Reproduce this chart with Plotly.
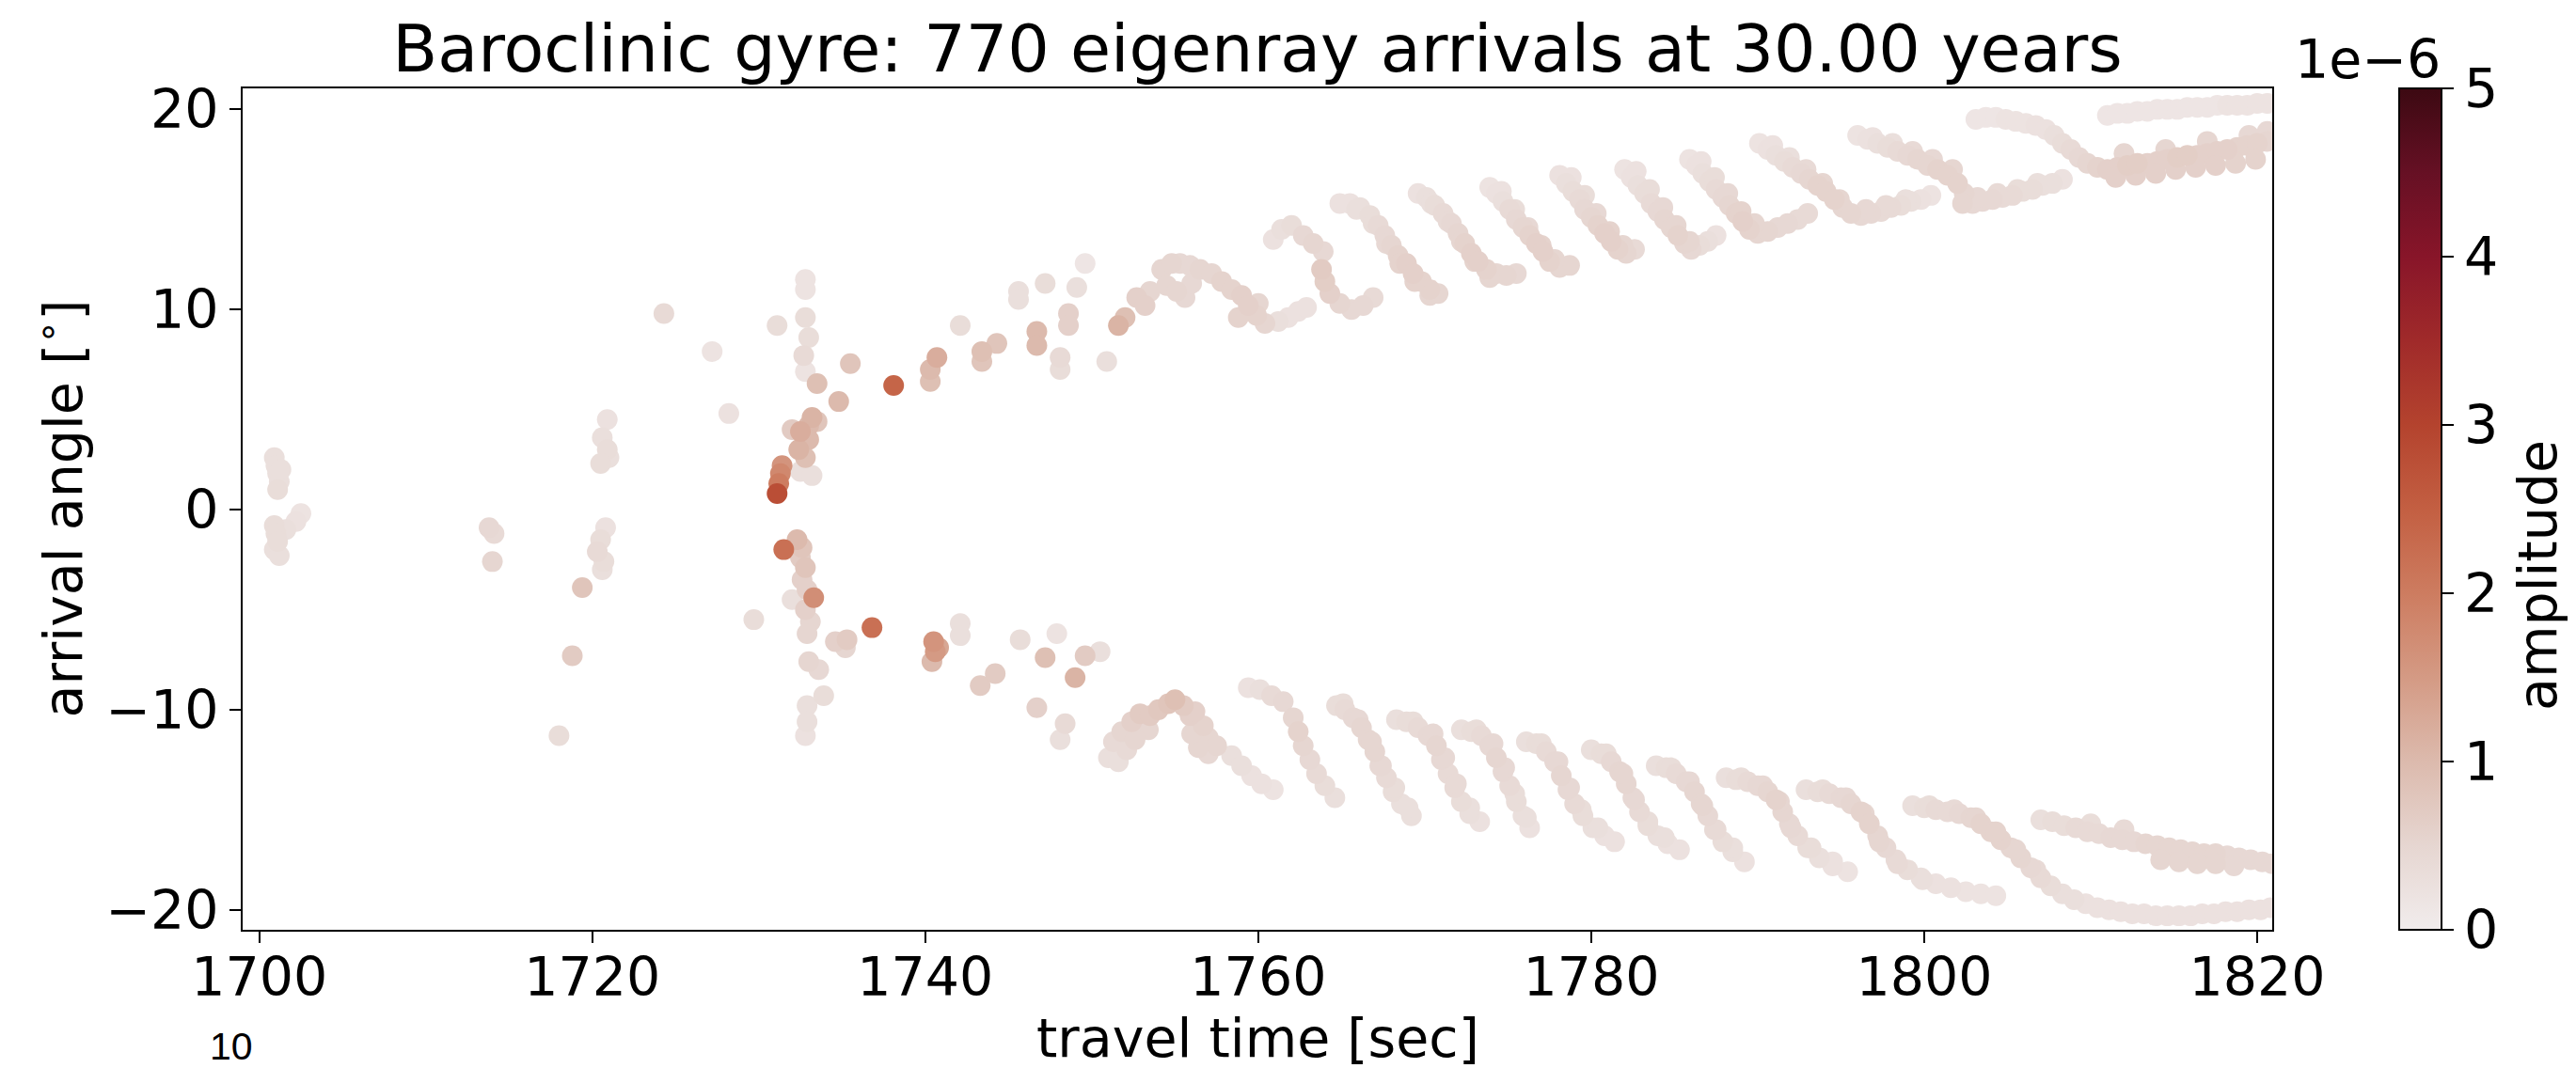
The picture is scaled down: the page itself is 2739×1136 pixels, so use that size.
import plotly.graph_objects as go

# ---------------------------------------------------------------
# Eigenray arrivals: travel time [s], arrival angle [deg], amplitude [1e-6]
# ---------------------------------------------------------------

# early, weak precursors (t < 1730 s)
early_t = [
    1700.9, 1701.0, 1701.1, 1701.2, 1701.1, 1701.3,
    1700.9, 1701.0, 1701.1, 1700.9, 1701.2, 1701.6, 1702.2, 1702.5,
    1713.8, 1714.1, 1714.0,
    1720.9, 1720.6, 1720.9, 1720.5, 1721.0,
    1720.8, 1720.5, 1720.3, 1720.7, 1720.6,
    1719.4, 1718.8, 1718.0,
    1724.3, 1727.2, 1728.2, 1729.7,
]
early_angle = [
    2.6, 2.2, 1.8, 1.4, 1.0, 2.0,
    -0.8, -1.2, -1.6, -2.0, -2.3, -1.0, -0.6, -0.2,
    -0.9, -1.2, -2.6,
    4.5, 3.6, 3.0, 2.3, 2.6,
    -0.9, -1.5, -2.1, -2.6, -3.0,
    -3.9, -7.3, -11.3,
    9.8, 7.9, 4.8, -5.5,
]
early_amp = [
    0.3, 0.3, 0.3, 0.3, 0.35, 0.3,
    0.35, 0.35, 0.35, 0.3, 0.3, 0.3, 0.25, 0.2,
    0.45, 0.4, 0.5,
    0.25, 0.3, 0.35, 0.35, 0.3,
    0.25, 0.35, 0.4, 0.35, 0.3,
    0.8, 0.7, 0.35,
    0.4, 0.2, 0.25, 0.35,
]

# strong arrivals near the fold (1731-1738 s)
fold_t = [
    1732.8, 1732.8, 1731.1, 1732.8, 1733.0, 1732.7, 1732.8, 1733.5, 1735.5, 1734.8, 1738.1,
    1733.2, 1733.0, 1732.5, 1733.0, 1732.4, 1732.8, 1733.5, 1732.0,
    1731.4, 1731.3, 1731.2, 1731.1, 1732.5, 1733.2,
    1731.5, 1732.3, 1732.6, 1732.5, 1732.8, 1732.6, 1732.9, 1733.3, 1732.0, 1732.8, 1733.1, 1732.9,
    1736.8, 1735.3, 1734.6, 1735.2,
    1733.0, 1733.6, 1733.9, 1732.9, 1732.9, 1732.8,
]
fold_angle = [
    11.5, 11.0, 9.2, 9.6, 8.6, 7.7, 6.9, 6.3, 7.3, 5.4, 6.2,
    4.6, 4.2, 3.9, 3.5, 3.0, 2.6, 4.4, 4.0,
    2.2, 1.8, 1.3, 0.8, 1.9, 1.7,
    -2.0, -1.5, -1.9, -2.4, -2.9, -3.5, -4.0, -4.4, -4.5, -5.0, -5.6, -6.2,
    -5.9, -6.5, -6.6, -6.9,
    -7.6, -8.0, -9.3, -9.8, -10.6, -11.3,
]
fold_amp = [
    0.2, 0.2, 0.35, 0.35, 0.35, 0.4, 0.2, 0.9, 0.8, 1.0, 2.4,
    1.1, 1.0, 1.2, 1.0, 1.1, 0.9, 0.8, 0.7,
    1.6, 1.8, 2.0, 2.8, 0.3, 0.3,
    2.2, 1.0, 0.8, 0.7, 0.8, 0.6, 0.6, 1.7, 0.3, 0.6, 0.5, 0.5,
    2.2, 0.7, 0.6, 0.5,
    0.5, 0.45, 0.35, 0.3, 0.3, 0.25,
]

# upward-launched branch (positive angles)
upper_t = [
    1740.7, 1740.3, 1740.3, 1742.1, 1743.4, 1743.4, 1744.3, 1745.6, 1745.6, 1746.7,
    1746.7, 1747.2, 1748.1, 1748.1, 1748.6, 1748.6, 1749.1, 1749.6, 1750.9,
    1751.6, 1752.0, 1752.7, 1753.2, 1753.5,
    1754.2, 1754.8, 1755.3, 1755.9, 1756.5, 1757.2, 1757.8, 1754.5, 1755.1, 1755.6, 1756.0,
    1758.4, 1759.0, 1759.4, 1759.9, 1760.4, 1758.8, 1760.0,
    1761.2, 1761.8, 1762.4, 1762.9,
    1760.9, 1761.4, 1762.0, 1762.7, 1763.3, 1763.9,
    1763.8, 1764.0, 1764.3, 1764.9, 1765.6, 1766.3, 1766.9,
    1764.9, 1765.5, 1766.1, 1766.7, 1767.2, 1767.6, 1768.0, 1768.4, 1768.9, 1769.3, 1769.8, 1770.3, 1770.8,
    1769.6, 1770.1, 1770.6, 1771.1, 1771.6, 1772.0, 1772.4, 1772.8, 1773.2, 1773.7, 1774.3, 1774.9, 1775.5,
    1773.9, 1774.3, 1774.7, 1775.1, 1775.5, 1775.9, 1776.3, 1776.7, 1777.1, 1777.5, 1778.1, 1778.7,
    1778.1, 1778.5, 1778.9, 1779.3, 1779.6, 1780.0, 1780.4, 1780.8, 1781.2, 1781.6, 1782.1, 1782.6,
    1782.0, 1782.4, 1782.8, 1783.2, 1783.6, 1784.0, 1784.4, 1784.8, 1785.2, 1785.6, 1786.0, 1786.5, 1787.0, 1787.5,
    1785.9, 1786.3, 1786.7, 1787.1, 1787.5, 1787.9, 1788.3, 1788.7, 1789.1, 1789.5, 1790.0, 1790.6, 1791.2, 1791.8, 1792.4, 1793.0,
    1790.1, 1790.6, 1791.1, 1791.6, 1792.1, 1792.6, 1793.1, 1793.6, 1794.1, 1794.6,
    1795.1, 1795.6, 1796.2, 1796.8, 1797.4, 1798.0, 1798.6, 1799.2, 1799.8, 1800.4,
    1796.0, 1796.6, 1797.2, 1797.8, 1798.4, 1799.0, 1799.6, 1800.2, 1800.8, 1801.4, 1802.0, 1802.4,
    1802.3, 1802.9, 1803.5, 1804.1, 1804.7, 1805.3, 1805.9, 1806.5, 1807.1, 1807.7, 1808.3,
    1803.1, 1803.7, 1804.3, 1804.9, 1805.5, 1806.1, 1806.7, 1807.3, 1807.8, 1808.3, 1808.8, 1809.3, 1809.8, 1810.4,
    1811.0, 1811.6, 1812.2, 1812.8, 1813.4, 1814.0, 1814.6, 1815.2, 1815.8, 1816.4, 1817.0, 1817.6, 1818.2, 1818.8, 1819.4, 1820.0, 1820.6,
    1811.5, 1812.7, 1813.9, 1815.1, 1816.3, 1817.5, 1818.7, 1819.9, 1812.0, 1814.5, 1817.0, 1819.5, 1820.6,
    1811.0, 1811.6, 1812.2, 1812.8, 1813.4, 1814.0, 1814.6, 1815.2, 1815.8, 1816.4, 1817.0, 1817.6, 1818.2, 1818.8, 1819.4, 1820.0, 1820.6,
]
upper_angle = [
    7.6, 7.0, 6.4, 9.2, 7.9, 7.4, 8.3, 10.9, 10.5, 8.9,
    8.2, 11.3, 7.6, 7.0, 9.8, 9.2, 11.1, 12.3, 7.4,
    9.2, 9.6, 10.6, 10.2, 10.9,
    12.0, 12.3, 12.3, 12.2, 12.0, 11.8, 11.4, 11.2, 10.9, 10.6, 11.3,
    11.0, 10.7, 10.2, 9.7, 9.3, 9.6, 10.3,
    9.4, 9.6, 9.9, 10.1,
    13.5, 14.0, 14.2, 13.7, 13.3, 12.9,
    12.0, 11.4, 10.8, 10.3, 10.0, 10.2, 10.6,
    15.3, 15.3, 15.1, 14.7, 14.2, 13.7, 13.2, 12.7, 12.3, 11.8, 11.4, 11.0, 10.8,
    15.8, 15.6, 15.2, 14.8, 14.3, 13.8, 13.3, 12.8, 12.4, 12.0, 11.8, 11.7, 11.8,
    16.1, 15.8, 15.4, 15.0, 14.5, 14.1, 13.7, 13.3, 12.9, 12.4, 12.1, 12.2,
    16.7, 16.3, 15.9, 15.5, 15.0, 14.6, 14.2, 13.8, 13.4, 13.0, 12.8, 13.0,
    17.0, 16.6, 16.2, 15.8, 15.3, 14.9, 14.5, 14.1, 13.7, 13.3, 13.0, 13.2, 13.4, 13.7,
    17.5, 17.2, 16.8, 16.4, 16.0, 15.6, 15.2, 14.8, 14.4, 14.0, 13.8, 13.9, 14.1, 14.3, 14.5, 14.8,
    18.3, 18.0, 17.7, 17.4, 17.1, 16.8, 16.5, 16.2, 15.9, 15.5,
    15.1, 14.8, 14.7, 14.8, 14.9, 15.1, 15.2, 15.4, 15.5, 15.7,
    18.7, 18.5, 18.3, 18.1, 17.9, 17.7, 17.5, 17.2, 17.0, 16.7, 16.3, 15.8,
    15.3, 15.3, 15.4, 15.5, 15.6, 15.7, 15.9, 16.0, 16.2, 16.3, 16.5,
    19.5, 19.6, 19.6, 19.5, 19.4, 19.3, 19.2, 19.0, 18.7, 18.3, 18.0, 17.6, 17.3, 17.1,
    17.0, 17.1, 17.2, 17.3, 17.3, 17.4, 17.5, 17.6, 17.7, 17.7, 17.8, 17.9, 18.0, 18.1, 18.2, 18.3, 18.4,
    16.6, 16.7, 16.8, 17.0, 17.1, 17.2, 17.3, 17.5, 17.8, 18.0, 18.4, 18.7, 18.9,
    19.7, 19.8, 19.8, 19.9, 19.9, 20.0, 20.0, 20.0, 20.1, 20.1, 20.1, 20.2, 20.2, 20.2, 20.2, 20.3, 20.3,
]
upper_amp = [
    1.2, 1.0, 0.9, 0.35, 0.9, 0.8, 0.8, 0.3, 0.3, 1.0,
    1.0, 0.35, 0.4, 0.35, 0.6, 0.6, 0.3, 0.15, 0.3,
    1.1, 0.9, 0.6, 0.6, 0.5,
    0.5, 0.5, 0.45, 0.45, 0.5, 0.5, 0.55, 0.5, 0.5, 0.45, 0.45,
    0.55, 0.6, 0.6, 0.55, 0.5, 0.55, 0.5,
    0.3, 0.25, 0.25, 0.25,
    0.25, 0.3, 0.35, 0.45, 0.5, 0.45,
    0.7, 0.65, 0.6, 0.5, 0.45, 0.45, 0.4,
    0.25, 0.25, 0.3, 0.35, 0.4, 0.45, 0.5, 0.55, 0.6, 0.6, 0.55, 0.55, 0.5,
    0.25, 0.3, 0.35, 0.4, 0.45, 0.5, 0.55, 0.6, 0.6, 0.55, 0.5, 0.5, 0.45,
    0.2, 0.25, 0.3, 0.4, 0.45, 0.5, 0.55, 0.6, 0.6, 0.55, 0.5, 0.5,
    0.25, 0.3, 0.35, 0.4, 0.45, 0.5, 0.55, 0.6, 0.6, 0.55, 0.5, 0.4,
    0.2, 0.25, 0.3, 0.35, 0.4, 0.45, 0.5, 0.5, 0.55, 0.5, 0.45, 0.35, 0.3, 0.25,
    0.2, 0.25, 0.3, 0.35, 0.4, 0.45, 0.5, 0.55, 0.6, 0.55, 0.5, 0.5, 0.45, 0.45, 0.4, 0.4,
    0.2, 0.25, 0.3, 0.35, 0.4, 0.45, 0.5, 0.55, 0.55, 0.55,
    0.5, 0.5, 0.45, 0.45, 0.4, 0.4, 0.35, 0.3, 0.25, 0.2,
    0.2, 0.25, 0.3, 0.35, 0.4, 0.45, 0.5, 0.5, 0.55, 0.55, 0.55, 0.5,
    0.5, 0.45, 0.45, 0.45, 0.4, 0.4, 0.35, 0.35, 0.3, 0.3, 0.25,
    0.15, 0.15, 0.15, 0.2, 0.2, 0.2, 0.25, 0.25, 0.3, 0.35, 0.4, 0.45, 0.5, 0.55,
    0.6, 0.6, 0.65, 0.65, 0.6, 0.6, 0.6, 0.65, 0.65, 0.6, 0.6, 0.6, 0.6, 0.55, 0.55, 0.55, 0.5,
    0.6, 0.6, 0.6, 0.6, 0.6, 0.6, 0.55, 0.55, 0.5, 0.5, 0.5, 0.45, 0.45,
    0.15, 0.15, 0.15, 0.15, 0.15, 0.15, 0.15, 0.15, 0.15, 0.15, 0.15, 0.15, 0.2, 0.2, 0.2, 0.2, 0.2,
]

# neighbouring rays that thicken the upper striations
upper_pair_t = [
    1765.9, 1766.9, 1767.7, 1768.5, 1769.4, 1770.3,
    1770.4, 1771.4, 1772.2, 1773.0, 1773.9,
    1774.6, 1775.4, 1776.2, 1777.0, 1777.8,
    1778.8, 1779.6, 1780.3, 1781.1, 1781.9,
    1782.7, 1783.5, 1784.3, 1785.1, 1785.9,
    1786.6, 1787.4, 1788.2, 1789.0, 1789.8,
    1790.9, 1791.9, 1792.9, 1793.9, 1794.9, 1796.5, 1797.7, 1798.9,
    1796.9, 1798.1, 1799.3, 1800.5, 1801.7, 1803.2, 1804.4, 1805.6, 1806.8,
]
upper_pair_angle = [
    15.0, 14.3, 13.3, 12.3, 11.4, 10.7,
    15.3, 14.4, 13.4, 12.4, 11.6,
    15.9, 15.0, 14.1, 13.2, 12.5,
    16.6, 15.7, 14.8, 13.9, 13.2,
    16.9, 16.0, 15.1, 14.2, 13.4,
    17.4, 16.6, 15.8, 14.9, 14.3,
    18.2, 17.6, 17.0, 16.3, 15.5, 15.0, 15.2, 15.5,
    18.6, 18.3, 17.9, 17.5, 17.0, 15.6, 15.8, 16.0, 16.3,
]
upper_pair_amp = [
    0.3, 0.35, 0.45, 0.55, 0.55, 0.5,
    0.3, 0.4, 0.5, 0.55, 0.5,
    0.25, 0.35, 0.45, 0.55, 0.5,
    0.25, 0.35, 0.45, 0.55, 0.5,
    0.25, 0.35, 0.45, 0.5, 0.5,
    0.25, 0.35, 0.45, 0.55, 0.5,
    0.25, 0.3, 0.4, 0.5, 0.5, 0.45, 0.4, 0.3,
    0.25, 0.3, 0.4, 0.45, 0.5, 0.45, 0.4, 0.35, 0.3,
]

# downward-launched branch (negative angles)
lower_t = [
    1740.5, 1740.6, 1740.4, 1740.8, 1742.1, 1742.1, 1743.3, 1744.2, 1745.7,
    1747.2, 1747.9, 1746.7, 1748.4, 1748.1, 1749.0, 1749.6, 1750.5,
    1751.0, 1751.3, 1751.8, 1752.4, 1752.9, 1753.4, 1752.1, 1751.6, 1752.6,
    1753.5, 1754.0, 1754.6, 1755.0, 1755.5, 1755.9,
    1756.2, 1756.7, 1757.0, 1757.5, 1757.0, 1756.4, 1756.0,
    1758.4, 1759.0, 1759.6, 1760.2, 1760.9,
    1759.4, 1760.1, 1760.8, 1761.5,
    1762.1, 1762.4, 1762.7, 1763.1, 1763.5, 1764.0, 1764.6,
    1764.7, 1765.2, 1765.7, 1766.2, 1766.6, 1767.0, 1767.3, 1767.7, 1768.1, 1768.6, 1769.2,
    1768.3, 1768.9, 1769.6, 1770.2, 1770.7, 1771.0, 1771.4, 1771.8, 1772.2, 1772.7, 1773.3,
    1772.2, 1772.8, 1773.4, 1773.9, 1774.3, 1774.7, 1775.1, 1775.5, 1775.9, 1776.3,
    1776.1, 1776.7, 1777.3, 1777.8, 1778.2, 1778.6, 1779.0, 1779.5, 1780.1, 1780.8, 1781.4,
    1780.0, 1780.6, 1781.2, 1781.7, 1782.1, 1782.5, 1782.9, 1783.4, 1784.0, 1784.6, 1785.3,
    1783.9, 1784.5, 1785.1, 1785.7, 1786.2, 1786.6, 1787.0, 1787.4, 1787.9, 1788.5, 1789.2,
    1788.1, 1788.7, 1789.4, 1790.0, 1790.6, 1791.1, 1791.5, 1791.9, 1792.4, 1793.0, 1793.7, 1794.5, 1795.4,
    1792.9, 1793.6, 1794.3, 1795.0, 1795.6, 1796.2, 1796.7, 1797.2, 1797.7,
    1798.3, 1799.0, 1799.8, 1800.7, 1801.6, 1802.5, 1803.4, 1804.3,
    1799.3, 1800.0, 1800.7, 1801.4, 1802.1, 1802.8, 1803.4, 1804.0, 1804.6, 1805.2, 1805.8,
    1806.4, 1807.0, 1807.6, 1808.3, 1809.0, 1809.7, 1810.4, 1811.1, 1811.8, 1812.5, 1813.2,
    1813.9, 1814.6, 1815.3, 1816.0, 1816.7, 1817.4, 1818.1, 1818.8, 1819.5, 1820.2, 1820.8,
    1807.0, 1807.7, 1808.4, 1809.1, 1809.8, 1810.5, 1811.2, 1811.9, 1812.6, 1813.3, 1814.0,
    1814.7, 1815.4, 1816.1, 1816.8, 1817.5, 1818.2, 1818.9, 1819.6, 1820.3, 1820.9,
    1814.2, 1815.3, 1816.4, 1817.5, 1818.6, 1812.0, 1810.0,
]
lower_angle = [
    -6.6, -7.1, -7.6, -6.9, -5.7, -6.3, -8.8, -8.2, -6.5,
    -7.4, -6.2, -9.9, -10.7, -11.5, -8.4, -7.3, -7.1,
    -12.4, -11.6, -11.1, -10.6, -10.2, -11.0, -12.0, -12.6, -11.5,
    -10.3, -10.0, -9.7, -9.5, -9.8, -10.3,
    -10.1, -10.8, -11.4, -11.8, -12.2, -11.9, -11.2,
    -12.3, -12.8, -13.3, -13.7, -14.0,
    -8.9, -9.0, -9.3, -9.6,
    -10.4, -11.1, -11.8, -12.5, -13.2, -13.8, -14.4,
    -9.8, -10.0, -10.4, -10.9, -11.5, -12.1, -12.8, -13.4, -14.1, -14.7, -15.3,
    -10.5, -10.6, -10.9, -11.3, -11.8, -12.5, -13.2, -13.9, -14.6, -15.2, -15.6,
    -11.0, -11.1, -11.3, -11.8, -12.4, -13.1, -13.8, -14.6, -15.3, -15.9,
    -11.6, -11.7, -12.1, -12.6, -13.3, -14.0, -14.7, -15.3, -15.9, -16.3, -16.6,
    -12.0, -12.2, -12.6, -13.1, -13.7, -14.4, -15.1, -15.8, -16.3, -16.7, -17.0,
    -12.8, -12.9, -13.2, -13.6, -14.1, -14.7, -15.3, -16.0, -16.6, -17.1, -17.6,
    -13.4, -13.5, -13.6, -13.8, -14.1, -14.5, -15.1, -15.7, -16.3, -16.9, -17.4, -17.8, -18.1,
    -14.0, -14.1, -14.2, -14.4, -14.7, -15.1, -15.7, -16.3, -16.9,
    -17.5, -18.0, -18.4, -18.7, -18.9, -19.1, -19.2, -19.3,
    -14.8, -14.9, -15.0, -15.1, -15.2, -15.4, -15.7, -16.1, -16.5, -16.9, -17.4,
    -17.9, -18.4, -18.8, -19.2, -19.5, -19.7, -19.9, -20.0, -20.1, -20.2, -20.2,
    -20.3, -20.3, -20.3, -20.3, -20.2, -20.2, -20.1, -20.1, -20.0, -20.0, -19.9,
    -15.5, -15.6, -15.8, -15.9, -16.1, -16.2, -16.4, -16.5, -16.6, -16.7, -16.8,
    -16.9, -17.0, -17.1, -17.2, -17.2, -17.3, -17.4, -17.5, -17.6, -17.7,
    -17.5, -17.6, -17.7, -17.7, -17.8, -16.0, -15.7,
]
lower_amp = [
    1.6, 1.5, 1.0, 1.3, 0.3, 0.3, 0.7, 0.7, 0.35,
    0.9, 0.2, 0.6, 0.4, 0.3, 1.1, 0.7, 0.3,
    0.3, 0.4, 0.5, 0.6, 0.7, 0.5, 0.4, 0.3, 0.5,
    0.7, 0.75, 0.8, 0.9, 0.7, 0.6,
    0.6, 0.55, 0.5, 0.5, 0.45, 0.5, 0.5,
    0.3, 0.3, 0.25, 0.25, 0.2,
    0.25, 0.3, 0.4, 0.45,
    0.5, 0.55, 0.5, 0.45, 0.4, 0.35, 0.3,
    0.35, 0.4, 0.45, 0.5, 0.5, 0.5, 0.45, 0.4, 0.35, 0.3, 0.3,
    0.3, 0.35, 0.4, 0.45, 0.5, 0.45, 0.4, 0.4, 0.35, 0.3, 0.25,
    0.3, 0.35, 0.4, 0.45, 0.5, 0.45, 0.4, 0.35, 0.3, 0.25,
    0.3, 0.35, 0.4, 0.45, 0.5, 0.45, 0.4, 0.35, 0.3, 0.25, 0.25,
    0.3, 0.35, 0.45, 0.5, 0.5, 0.45, 0.4, 0.35, 0.3, 0.25, 0.25,
    0.3, 0.35, 0.4, 0.45, 0.5, 0.5, 0.45, 0.4, 0.35, 0.3, 0.25,
    0.3, 0.35, 0.4, 0.45, 0.5, 0.55, 0.5, 0.45, 0.4, 0.35, 0.3, 0.25, 0.2,
    0.3, 0.35, 0.4, 0.45, 0.5, 0.55, 0.55, 0.5, 0.45,
    0.4, 0.35, 0.3, 0.25, 0.25, 0.2, 0.2, 0.2,
    0.3, 0.35, 0.4, 0.4, 0.45, 0.5, 0.55, 0.55, 0.55, 0.5, 0.5,
    0.45, 0.4, 0.35, 0.3, 0.3, 0.25, 0.25, 0.25, 0.25, 0.25, 0.25,
    0.25, 0.25, 0.25, 0.25, 0.25, 0.25, 0.25, 0.25, 0.25, 0.25, 0.25,
    0.3, 0.35, 0.35, 0.4, 0.4, 0.4, 0.45, 0.45, 0.45, 0.5, 0.5,
    0.5, 0.5, 0.5, 0.5, 0.5, 0.45, 0.45, 0.45, 0.45, 0.45,
    0.5, 0.5, 0.5, 0.5, 0.45, 0.4, 0.35,
]

# neighbouring rays that thicken the lower striations
lower_pair_t = [
    1765.1, 1766.0, 1766.8, 1767.4, 1768.2, 1769.0,
    1769.3, 1770.5, 1771.2, 1771.9, 1772.7,
    1773.1, 1774.1, 1774.8, 1775.4, 1776.1,
    1777.0, 1778.0, 1778.7, 1779.4, 1780.4,
    1780.9, 1781.9, 1782.6, 1783.4, 1784.4,
    1784.8, 1785.9, 1786.7, 1787.5, 1788.5,
    1789.0, 1790.3, 1791.3, 1792.0, 1793.2, 1794.5,
    1793.9, 1795.3, 1796.4, 1797.3, 1798.4, 1799.9,
    1800.3, 1801.8, 1803.1, 1804.3, 1805.5, 1806.7,
]
lower_pair_angle = [
    -9.7, -10.5, -11.6, -12.8, -13.9, -14.9,
    -10.6, -11.2, -12.4, -13.7, -14.9,
    -11.0, -11.7, -12.9, -14.2, -15.4,
    -11.7, -12.6, -13.9, -15.0, -15.9,
    -12.2, -13.2, -14.5, -15.6, -16.4,
    -12.9, -13.6, -14.8, -16.0, -16.9,
    -13.4, -13.8, -14.6, -15.9, -16.9, -17.6,
    -14.0, -14.4, -15.2, -16.6, -17.7, -18.5,
    -14.8, -15.0, -15.4, -16.1, -17.0, -18.0,
]
lower_pair_amp = [
    0.35, 0.45, 0.5, 0.45, 0.35, 0.3,
    0.35, 0.45, 0.45, 0.4, 0.3,
    0.35, 0.45, 0.45, 0.35, 0.3,
    0.35, 0.45, 0.45, 0.35, 0.3,
    0.35, 0.5, 0.45, 0.35, 0.3,
    0.35, 0.45, 0.5, 0.4, 0.3,
    0.35, 0.45, 0.5, 0.45, 0.35, 0.25,
    0.35, 0.45, 0.5, 0.5, 0.4, 0.3,
    0.35, 0.4, 0.5, 0.55, 0.5, 0.4,
]

x_ticks = [1700, 1720, 1740, 1760, 1780, 1800, 1820]
y_ticks = [-20, -10, 0, 10, 20]
cbar_ticks = [0, 1, 2, 3, 4, 5]

groups = [
    (early_t, early_angle, early_amp),
    (fold_t, fold_angle, fold_amp),
    (upper_t, upper_angle, upper_amp),
    (upper_pair_t, upper_pair_angle, upper_pair_amp),
    (lower_t, lower_angle, lower_amp),
    (lower_pair_t, lower_pair_angle, lower_pair_amp),
]
for g_t, g_a, g_m in groups:
    assert len(g_t) == len(g_a) == len(g_m), (len(g_t), len(g_a), len(g_m))

t_all, a_all, m_all = [], [], []
for g_t, g_a, g_m in groups:
    t_all += g_t
    a_all += g_a
    m_all += g_m

# draw weak arrivals first so the strong ones sit on top
order = sorted(range(len(t_all)), key=lambda i: m_all[i])
t_plot = [t_all[i] for i in order]
a_plot = [a_all[i] for i in order]
m_plot = [m_all[i] for i in order]

# sequential white-to-dark-red amplitude colour map
amp_scale = [
    [0.0, "#F1ECEC"], [0.1, "#E6D6D1"], [0.2, "#DCBAAD"], [0.3, "#D49A84"],
    [0.4, "#CD7C60"], [0.5, "#C35F42"], [0.6, "#B4432E"], [0.7, "#A02A2A"],
    [0.8, "#881529"], [0.9, "#661024"], [1.0, "#3C0912"],
]

W, H = 2739, 1136
L, R, T, B = 258, 2416, 94, 989
pw, ph = R - L, B - T
FONT = "DejaVu Sans"
FS = 57

fig = go.Figure()
fig.add_trace(go.Scatter(
    x=t_plot, y=a_plot, mode="markers",
    marker=dict(
        size=22, color=m_plot, colorscale=amp_scale, cmin=0, cmax=5,
        line=dict(width=0),
        colorbar=dict(
            x=(2551 - L) / pw, xanchor="left", xpad=0, ypad=0,
            y=0.5, yanchor="middle", len=1, lenmode="fraction",
            thickness=45, thicknessmode="pixels",
            outlinewidth=2, outlinecolor="black",
            tickvals=cbar_ticks, ticktext=[str(v) for v in cbar_ticks],
            ticks="outside", ticklen=12, tickwidth=2, tickcolor="black",
            tickfont=dict(family=FONT, size=FS, color="black"),
        ),
    ),
    hoverinfo="skip", showlegend=False,
))

axis_common = dict(
    showline=True, mirror=True, linecolor="black", linewidth=2,
    ticks="outside", ticklen=12, tickwidth=2, tickcolor="black",
    showgrid=False, zeroline=False,
    tickfont=dict(family=FONT, size=FS, color="black"),
)

fig.update_layout(
    width=W, height=H,
    margin=dict(l=L, r=W - R, t=T, b=H - B, pad=0),
    paper_bgcolor="white", plot_bgcolor="white",
    title=dict(
        text="Baroclinic gyre: 770 eigenray arrivals at 30.00 years",
        font=dict(family=FONT, size=70, color="black"),
        x=0.5, xref="paper", xanchor="center",
        y=1 - 51 / H, yref="container", yanchor="middle",
    ),
    xaxis=dict(range=[1699.0, 1820.9], tickvals=x_ticks,
               ticklabelstandoff=-12, **axis_common),
    yaxis=dict(range=[-21.0, 21.05], tickvals=y_ticks, **axis_common),
    annotations=[
        dict(text="travel time [sec]", x=0.5, y=(B - 1104) / ph,
             xref="paper", yref="paper", xanchor="center", yanchor="middle",
             showarrow=False, borderpad=0,
             font=dict(family=FONT, size=FS, color="black")),
        dict(text="arrival angle [<sup>∘</sup>]", x=(63 - L) / pw, y=0.5,
             xref="paper", yref="paper", xanchor="center", yanchor="middle",
             textangle=-90, showarrow=False,
             font=dict(family=FONT, size=FS, color="black")),
        dict(text="amplitude", x=(2698 - L) / pw, y=(B - 612) / ph,
             xref="paper", yref="paper", xanchor="center", yanchor="middle",
             textangle=-90, showarrow=False,
             font=dict(family=FONT, size=FS, color="black")),
        dict(text="1e\u22126", x=(2517 - L) / pw, y=(B - 63) / ph,
             xref="paper", yref="paper", xanchor="center", yanchor="middle",
             showarrow=False, font=dict(family=FONT, size=FS, color="black")),
        dict(text="10", x=(246 - L) / pw, y=(B - 1113) / ph,
             xref="paper", yref="paper", xanchor="center", yanchor="middle",
             showarrow=False,
             font=dict(family="Liberation Sans", size=41, color="black")),
    ],
)

fig.write_html("out.html")
